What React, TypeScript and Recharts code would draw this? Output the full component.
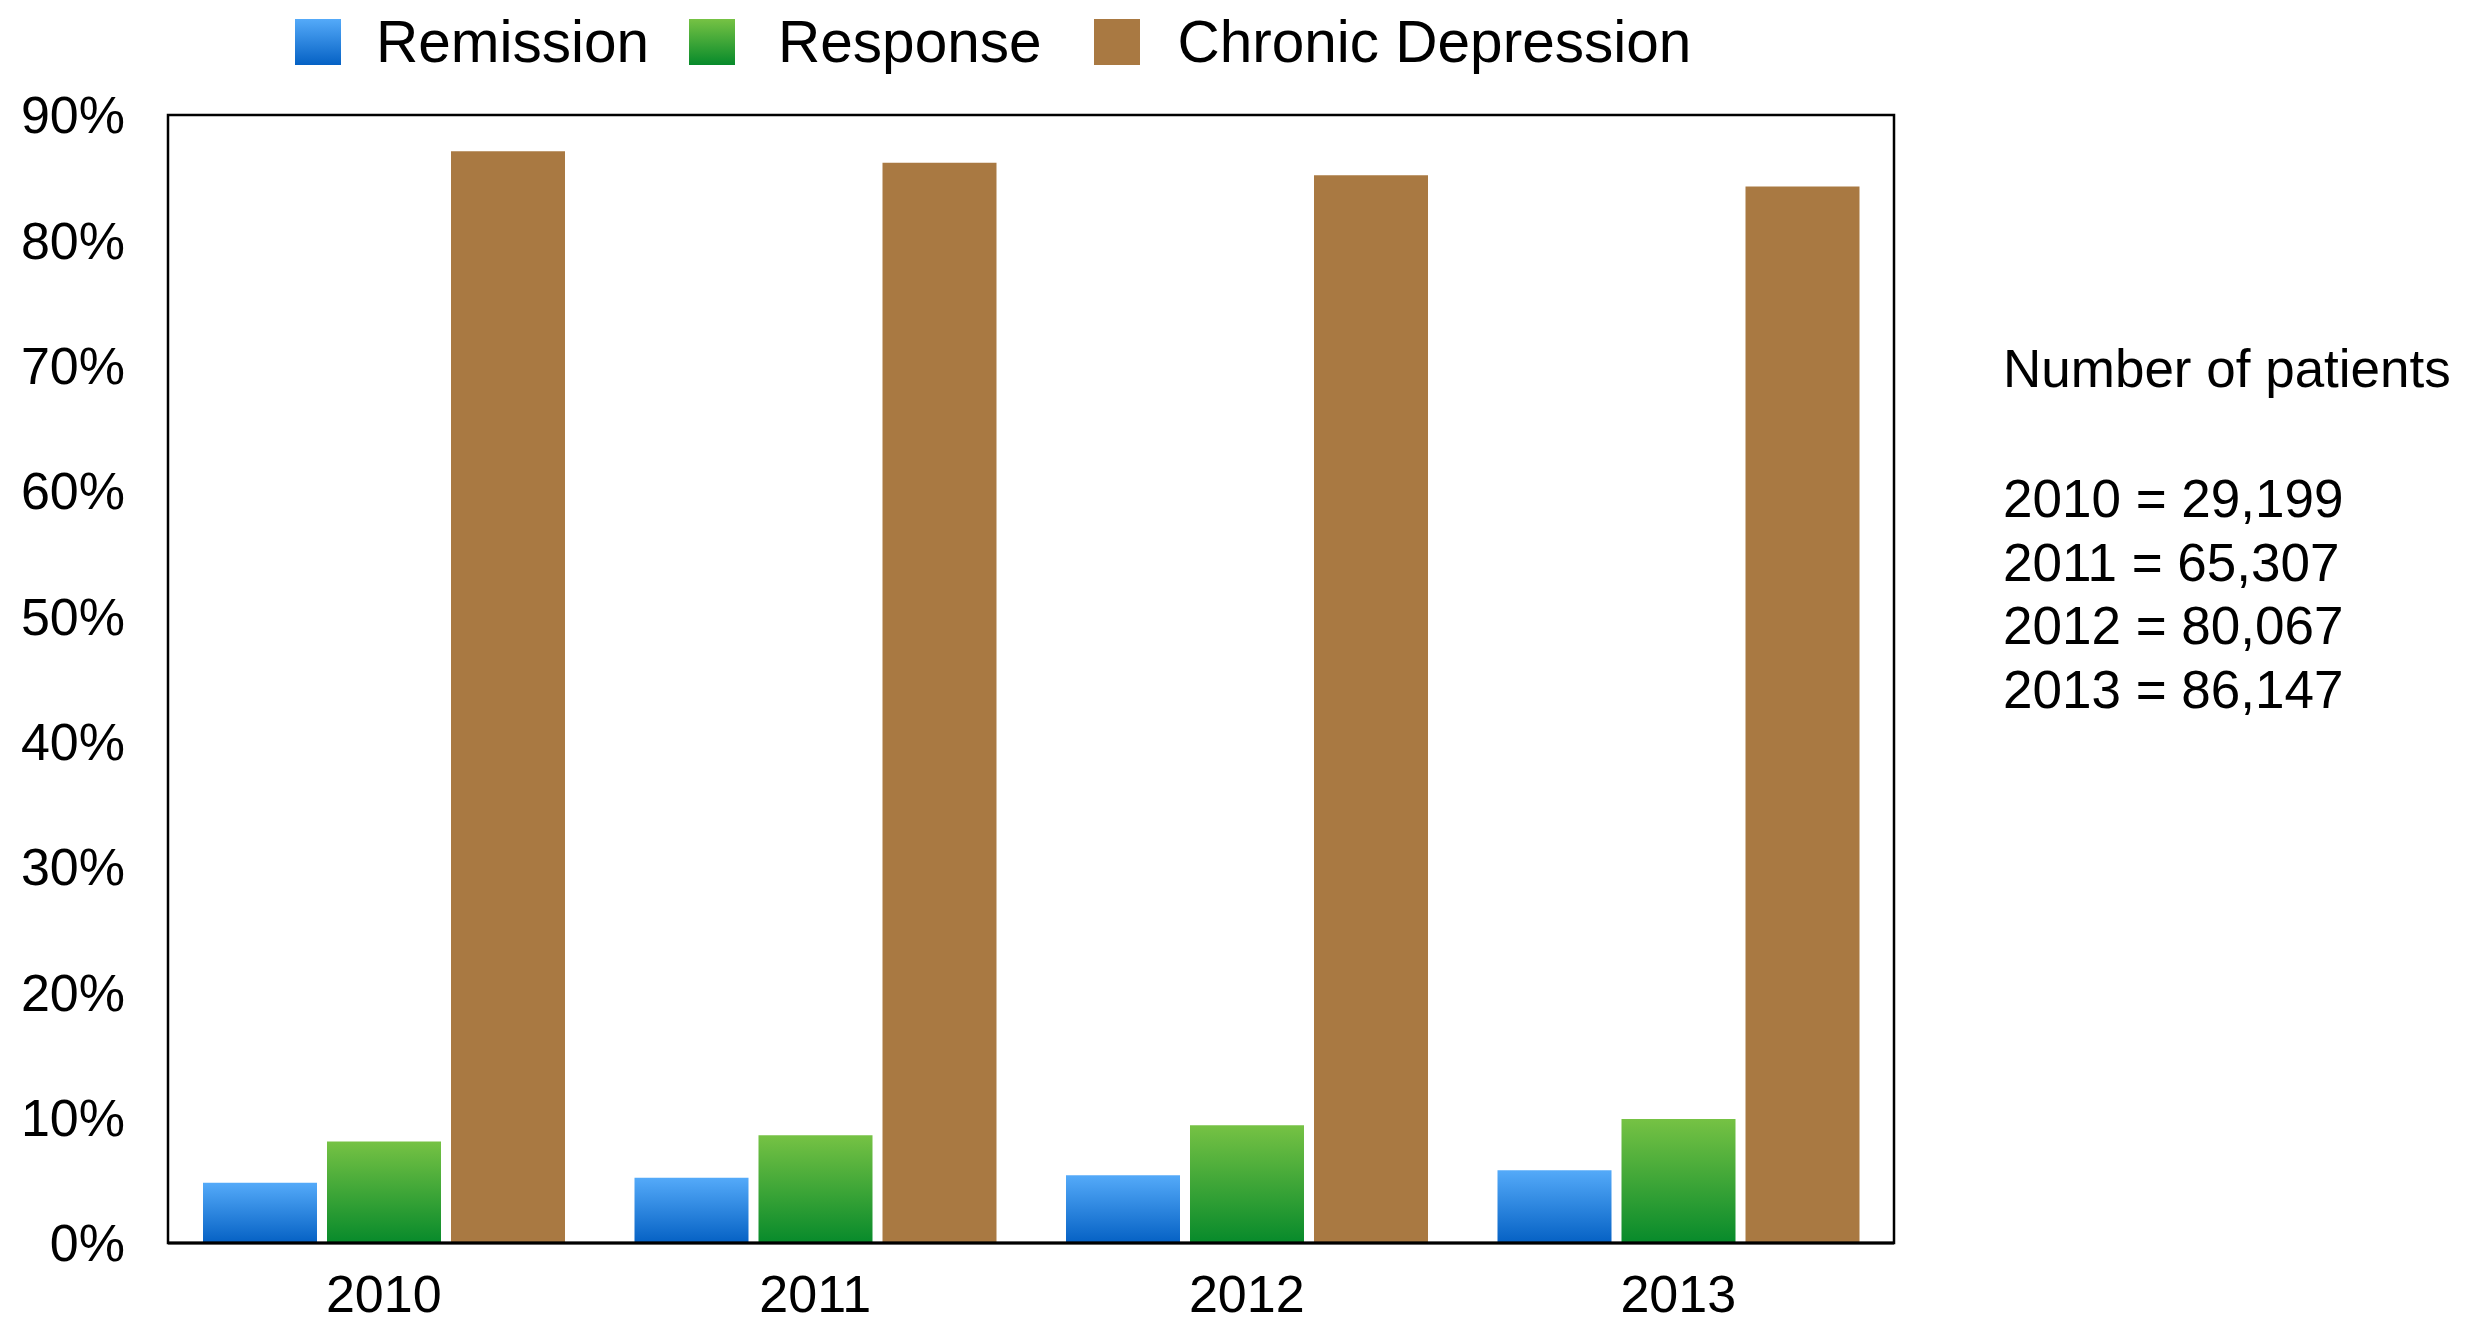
import React from 'react';
import { BarChart, Bar, XAxis, YAxis } from 'recharts';

const years = ['2010', '2011', '2012', '2013'];
const remission = [4.8, 5.2, 5.4, 5.8];
const response = [8.1, 8.6, 9.4, 9.9];
const chronicDepression = [87.1, 86.2, 85.2, 84.3];
const yTicks = [0, 10, 20, 30, 40, 50, 60, 70, 80, 90];
const patientCounts = ['29,199', '65,307', '80,067', '86,147'];
const notesTitle = 'Number of patients';

const seriesNames = ['Remission', 'Response', 'Chronic Depression'];
const seriesKeys = ['remission', 'response', 'chronic'];
const seriesTop = ['#54aaf9', '#76c244', '#a97942'];
const seriesBottom = ['#0561c4', '#078a2b', '#a97942'];

const data = years.map((y, i) => ({
  year: y,
  remission: remission[i],
  response: response[i],
  chronic: chronicDepression[i],
}));

const FONT = '"Liberation Sans", Arial, Helvetica, sans-serif';
const W = 2471;
const H = 1317;
const MARGIN = { top: 107, right: 585, left: 0, bottom: 0 };
const Y_AXIS_W = 160;
const X_AXIS_H = 82;

const legendIconGap = [35, 43, 38];
const legendItemGap = [40, 52, 0];

function LegendBox() {
  return (
    <div
      style={{
        position: 'absolute',
        top: 5,
        left: 287,
        display: 'flex',
        alignItems: 'center',
        fontFamily: FONT,
        fontSize: 58.5,
        lineHeight: '58px',
        color: '#000',
        whiteSpace: 'nowrap',
      }}
    >
      {seriesNames.map((name, i) => (
        <div key={name} style={{ display: 'flex', alignItems: 'center', marginRight: legendItemGap[i] }}>
          <svg width={46} height={46} style={{ display: 'block', marginRight: legendIconGap[i] }}>
            <defs>
              <linearGradient id={`lg${i}`} x1="0" y1="0" x2="0" y2="1">
                <stop offset="0%" stopColor={seriesTop[i]} />
                <stop offset="100%" stopColor={seriesBottom[i]} />
              </linearGradient>
            </defs>
            <rect x={0} y={0} width={46} height={46} fill={`url(#lg${i})`} />
          </svg>
          <span>{name}</span>
        </div>
      ))}
    </div>
  );
}

function Overlay() {
  const left = MARGIN.left + Y_AXIS_W;
  const top = MARGIN.top;
  const right = W - MARGIN.right;
  const bottom = H - MARGIN.bottom - X_AXIS_H;
  return (
    <svg
      width={W}
      height={H}
      style={{ position: 'absolute', top: 0, left: 0, pointerEvents: 'none' }}
    >
      <rect
        x={left}
        y={top}
        width={right - left}
        height={bottom - top}
        fill="none"
        stroke="#000"
        strokeWidth={2.5}
      />
      <text x={1995} y={379} fontFamily={FONT} fontSize={53} fill="#000">
        {notesTitle}
      </text>
      {years.map((y, i) => (
        <text key={y} x={1995} y={509 + i * 63.5} fontFamily={FONT} fontSize={53} fill="#000">
          {`${y} = ${patientCounts[i]}`}
        </text>
      ))}
    </svg>
  );
}

export default function App() {
  return (
    <div style={{ position: 'relative', width: W, height: H, background: '#fff' }}>
      <BarChart
        width={W}
        height={H}
        data={data}
        margin={MARGIN}
        barCategoryGap={35}
        barGap={10}
      >
        <defs>
          {seriesKeys.map((k, i) => (
            <linearGradient key={k} id={`g_${k}`} x1="0" y1="0" x2="0" y2="1">
              <stop offset="0%" stopColor={seriesTop[i]} />
              <stop offset="100%" stopColor={seriesBottom[i]} />
            </linearGradient>
          ))}
        </defs>
        <XAxis
          dataKey="year"
          height={X_AXIS_H}
          axisLine={{ stroke: '#000', strokeWidth: 3 }}
          tickLine={false}
          tickSize={0}
          tickMargin={32}
          tick={{ fontSize: 52, fill: '#000', fontFamily: FONT }}
        />
        <YAxis
          width={Y_AXIS_W}
          domain={[0, 90]}
          ticks={yTicks}
          interval={0}
          axisLine={false}
          tickLine={false}
          tickSize={0}
          tickMargin={43}
          tickFormatter={(v: number) => `${v}%`}
          tick={{ fontSize: 52, fill: '#000', fontFamily: FONT }}
        />
        {seriesKeys.map((k, i) => (
          <Bar
            key={k}
            dataKey={k}
            name={seriesNames[i]}
            fill={`url(#g_${k})`}
            isAnimationActive={false}
          />
        ))}
      </BarChart>
      <LegendBox />
      <Overlay />
    </div>
  );
}
